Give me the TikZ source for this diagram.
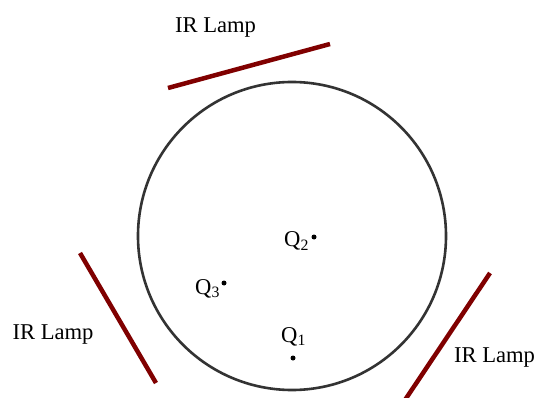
\documentclass[tikz,border=0pt]{standalone}
\usepackage{fontspec}
\setmainfont{Liberation Serif}
\begin{document}
\begin{tikzpicture}[x=1pt,y=-1pt,
  lamp/.style={line width=4.5pt,color=lampred},
  lbl/.style={inner sep=0pt,font=\fontsize{22.6}{26}\selectfont},
  pt/.style={circle,fill=black,inner sep=0pt,minimum size=5pt}]
\definecolor{lampred}{RGB}{128,0,0}
\definecolor{ringgray}{RGB}{51,51,51}
\useasboundingbox (0,0) rectangle (538,398);
\fill[white] (0,0) rectangle (538,398);
% chamber
\coordinate (c) at (292,236);
\draw[ringgray,line width=2.6pt] (c) circle[radius=154];
% lamps
\coordinate (t1) at (168,88);  \coordinate (t2) at (330,44);
\coordinate (l1) at (80,253);  \coordinate (l2) at (156,383);
\coordinate (r1) at (490,273); \coordinate (r2) at (405,400);
\draw[lamp] (t1) -- (t2);
\draw[lamp] (l1) -- (l2);
\draw[lamp] (r1) -- (r2);
% lamp labels
\node[lbl,anchor=base] (lt) at (215.5,33) {IR Lamp};
\node[lbl,anchor=base] (ll) at (53,339) {IR Lamp};
\node[lbl,anchor=base] (lr) at (494.5,362) {IR Lamp};
% points
\node[lbl,anchor=base west] (q2) at (284,247) {Q\textsubscript{2}};
\node[pt] (d2) at (314,237) {};
\node[lbl,anchor=base west] (q3) at (195,294) {Q\textsubscript{3}};
\node[pt] (d3) at (224,283) {};
\node[lbl,anchor=base west] (q1) at (281,342) {Q\textsubscript{1}};
\node[pt] (d1) at (293,358) {};
\end{tikzpicture}
\end{document}
